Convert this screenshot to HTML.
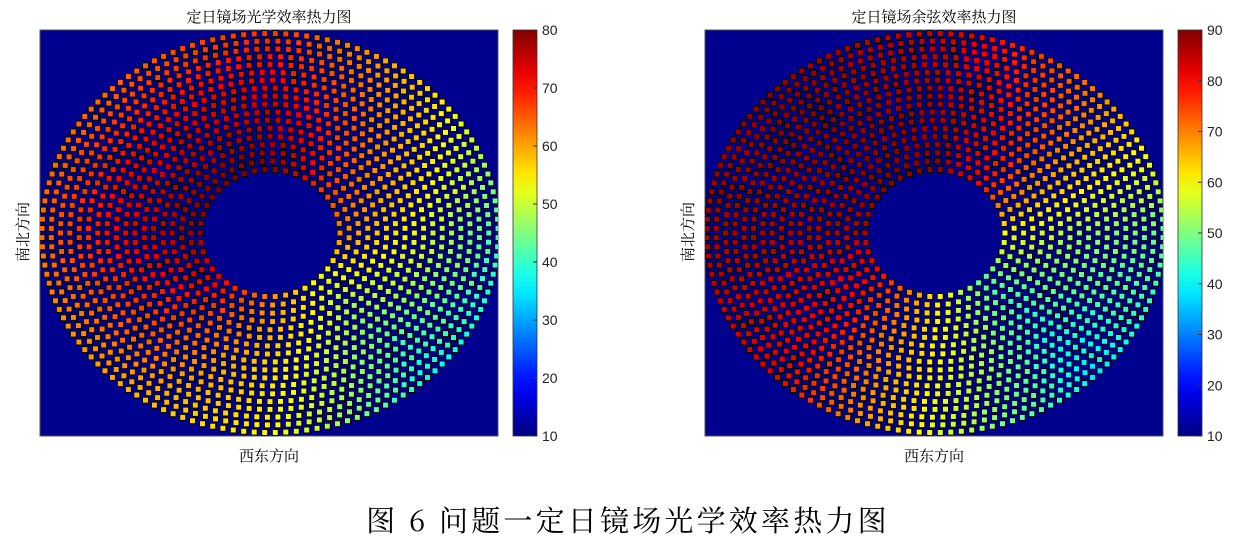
<!DOCTYPE html>
<html><head><meta charset="utf-8">
<style>
body{margin:0;background:#fff;width:1241px;height:542px;overflow:hidden;font-family:"Liberation Serif","Noto Serif CJK SC",serif}
svg{position:absolute;left:0;top:0}
</style></head><body>
<svg id="s" width="1241" height="542" xmlns="http://www.w3.org/2000/svg">
<defs>
<clipPath id="c1"><rect x="40" y="30" width="458" height="406"/></clipPath>
<clipPath id="c2"><rect x="705" y="30" width="458" height="406"/></clipPath>
</defs>
<text x="628" y="531" font-size="29" letter-spacing="3.2" text-anchor="middle" font-family="Noto Serif CJK SC, serif">图 6 问题一定日镜场光学效率热力图</text>
</svg>
<script>
// sector angles (deg, CCW from east), bands inner/mid/outer
const sectorAngles=[0,45,90,135,180,225,270,315];
const opticalInner=[62,68,80,80,79,72,62,52];
const opticalMid=[52,62,74,73,72,66,56,44];
const opticalOuter=[40,56,68,64,64,60,54,36];
const cosineInner=[60,78,89,89,86,78,62,46];
const cosineMid=[52,74,87,89,86,80,60,42];
const cosineOuter=[48,70,84,89,87,82,58,38];
const ticks1=[10,20,30,40,50,60,70,80];
const ticks2=[10,20,30,40,50,60,70,80,90];

const NS="http://www.w3.org/2000/svg";
const svg=document.getElementById('s');
function mk(t,a,p){const e=document.createElementNS(NS,t);for(const k in a)e.setAttribute(k,a[k]);(p||svg).appendChild(e);return e;}
function jet(v){const f=(x)=>Math.max(0,Math.min(1,x));
 const r=f(Math.min(4*v-1.5,-4*v+4.5)),g=f(Math.min(4*v-0.5,-4*v+3.5)),b=f(Math.min(4*v+0.5,-4*v+2.5));
 return `rgb(${Math.round(r*255)},${Math.round(g*255)},${Math.round(b*255)})`;}
function angLookup(arr,ang){const a=((ang%360)+360)%360;const n=sectorAngles.length;
 const step=360/n;const i=Math.floor(a/step)%n;const t=(a-sectorAngles[i])/step;
 return arr[i]*(1-t)+arr[(i+1)%n]*t;}
function valueAt(bands,ringFrac,ang){
 const vs=bands.map(b=>angLookup(b,ang));
 const p=ringFrac*(vs.length-1);const i=Math.min(Math.floor(p),vs.length-2);const t=p-i;
 return vs[i]*(1-t)+vs[i+1]*t;}

function panel(ox,title,bands,vmin,vmax,ticks,clip,prefix){
 const g=mk('g',{});
 const ax=mk('rect',{x:ox,y:30,width:458,height:406,fill:'#00008f',stroke:'#555','stroke-width':1},g);
 
 
 const cells=mk('g',{'clip-path':`url(#${clip})`},g);
 
 
 const cx=ox+230,cy=233;const nr=18;
 for(let i=0;i<nr;i++){
  const rx=70+i*9.3,ry=rx*(0.91-0.035*i/(nr-1));const n=Math.round(2*Math.PI*rx/10.5);
  for(let j=0;j<n;j++){
   const a=(j+(i%2)*0.5)/n*360;const rad=a*Math.PI/180;
   const x=cx+rx*Math.cos(rad),y=cy-ry*Math.sin(rad);
   const v=valueAt(bands,i/(nr-1),a);
   const r=mk('rect',{x:(x-3).toFixed(1),y:(y-3).toFixed(1),width:6,height:6,fill:jet((v-vmin)/(vmax-vmin)),stroke:'#000','stroke-width':1},cells);
   
   
  }
 }
 const t=mk('text',{x:ox+229,y:22,'font-size':15,'text-anchor':'middle'},g);t.textContent=title;
 
 const xl=mk('text',{x:ox+229,y:461,'font-size':15,'text-anchor':'middle'},g);xl.textContent='西东方向';
 
 const yl=mk('text',{x:0,y:0,'font-size':15,'text-anchor':'middle',transform:`translate(${ox-12},232) rotate(-90)`},g);yl.textContent='南北方向';
 
 const bx=ox+473,by=30,bh=406,bw=24;
 const gid=prefix+'grad';
 const lg=mk('linearGradient',{id:gid,x1:0,y1:1,x2:0,y2:0},svg.querySelector('defs'));
 for(let k=0;k<=20;k++)mk('stop',{offset:k/20,'stop-color':jet(k/20)},lg);
 const cb=mk('rect',{x:bx,y:by,width:bw,height:bh,fill:`url(#${gid})`,stroke:'#333','stroke-width':0.8},g);
 
 ticks.forEach(tv=>{const yy=by+bh-(tv-vmin)/(vmax-vmin)*bh;
  mk('line',{x1:bx+bw-4,x2:bx+bw,y1:yy,y2:yy,stroke:'#333'},g);
  const tl=mk('text',{x:bx+bw+5,y:yy+5,'font-size':14,'font-family':'Liberation Sans, sans-serif',fill:'#222'},g);
  tl.textContent=tv;
  });
}
panel(40,'定日镜场光学效率热力图',[opticalInner,opticalMid,opticalOuter],10,80,ticks1,'c1','optical');
panel(705,'定日镜场余弦效率热力图',[cosineInner,cosineMid,cosineOuter],10,90,ticks2,'c2','cosine');
</script>
</body></html>
